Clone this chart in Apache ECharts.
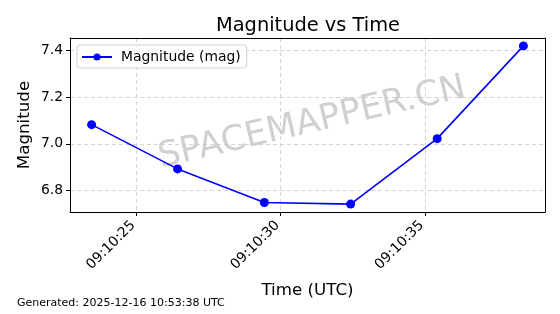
<!DOCTYPE html>
<html><head><meta charset="utf-8">
<script src="https://cdn.jsdelivr.net/npm/echarts@6/dist/echarts.min.js"></script>
<style>html,body{margin:0;padding:0;background:#fff}#c{width:560px;height:314px}</style>
</head><body><div id="c"></div>
<script>
const timeLabels = ['09:10:23.45','09:10:26.43','09:10:29.44','09:10:32.43','09:10:35.43','09:10:38.42'];
const magnitudes = [7.082, 6.892, 6.748, 6.741, 7.022, 7.420];
const xTickLabels = ['09:10:25','09:10:30','09:10:35'];
const yTicks = [6.8, 7.0, 7.2, 7.4];
const seriesName = 'Magnitude (mag)';
const titleText = 'Magnitude vs Time';
const footerText = 'Generated: 2025-12-16 10:53:38 UTC';
const watermark = 'SPACEMAPPER.CN';

function toSec(s){const p=s.split(':');return (+p[0])*3600+(+p[1])*60+(+p[2]);}
function fmt(v){v=Math.round(v);const h=Math.floor(v/3600),m=Math.floor((v%3600)/60),s=v%60;const z=n=>String(n).padStart(2,'0');return z(h)+':'+z(m)+':'+z(s);}
const xs = timeLabels.map(toSec);
const xTickVals = xTickLabels.map(toSec);
const xmin0=Math.min(...xs), xmax0=Math.max(...xs), xr=xmax0-xmin0;
const ymin0=Math.min(...magnitudes), ymax0=Math.max(...magnitudes), yr=ymax0-ymin0;
const FONT='DejaVu Sans';
const chart = echarts.init(document.getElementById('c'), null, {renderer:'canvas'});
chart.setOption({
  animation:false,
  backgroundColor:'#fff',
  textStyle:{fontFamily:FONT},
  title:{text:titleText,left:303,top:11,textAlign:'center',textStyle:{fontFamily:FONT,fontSize:19.4,fontWeight:'normal',color:'#000'}},
  grid:{left:70,right:15,top:38,bottom:102},
  legend:{left:77,top:45,data:[seriesName],itemWidth:30,itemHeight:9,padding:[5,6,4,4],itemGap:8,
    borderColor:'#d0d0d0',borderWidth:1,borderRadius:3,backgroundColor:'rgba(255,255,255,0.8)',
    textStyle:{fontFamily:FONT,fontSize:13.9,color:'#000',padding:[0,0,0,4]}},
  xAxis:[{type:'value',min:xmin0-0.05*xr,max:xmax0+0.05*xr,
    name:'Time (UTC)',nameLocation:'middle',nameGap:70,nameTextStyle:{fontFamily:FONT,fontSize:16.7,color:'#000'},
    axisLine:{show:true,onZero:false,lineStyle:{color:'#000',width:1}},
    axisTick:{show:true,length:4,inside:false,customValues:xTickVals,lineStyle:{color:'#000'}},
    axisLabel:{rotate:45,margin:8,customValues:xTickVals,formatter:v=>fmt(v)+' ',fontFamily:FONT,fontSize:13.9,color:'#000'},
    splitLine:{show:true,lineStyle:{color:'#c8c8c8',type:[4,3],width:0.8}}},
   {type:'value',position:'top',min:0,max:1,axisLine:{show:true,onZero:false,lineStyle:{color:'#000'}},axisTick:{show:false},axisLabel:{show:false},splitLine:{show:false}}],
  yAxis:[{type:'value',min:ymin0-0.05*yr,max:ymax0+0.05*yr,
    name:'Magnitude',nameLocation:'middle',nameGap:37,nameMoveOverlap:false,nameTextStyle:{fontFamily:FONT,fontSize:16.7,color:'#000'},
    axisLine:{show:true,onZero:false,lineStyle:{color:'#000',width:1}},
    axisTick:{show:true,length:4,customValues:yTicks,lineStyle:{color:'#000'}},
    axisLabel:{margin:7,customValues:yTicks,formatter:v=>v.toFixed(1),fontFamily:FONT,fontSize:13.9,color:'#000'},
    splitLine:{show:true,lineStyle:{color:'#c8c8c8',type:[4,3],width:0.8}}},
   {type:'value',position:'right',min:0,max:1,axisLine:{show:true,onZero:false,lineStyle:{color:'#000'}},axisTick:{show:false},axisLabel:{show:false},splitLine:{show:false}}],
  graphic:[
    {type:'text',left:17,top:298,style:{text:footerText,fontFamily:FONT,fontSize:11,fill:'#000'}},
    {type:'text',x:312,y:123,rotation:Math.PI*13/180,z:-1,style:{text:watermark,fontFamily:FONT,fontSize:35,fill:'rgba(150,150,150,0.45)',align:'center',verticalAlign:'middle'}}
  ],
  series:[{name:seriesName,type:'line',data:xs.map((x,i)=>[x,magnitudes[i]]),
    symbol:'circle',symbolSize:9,showSymbol:true,
    lineStyle:{color:'#0000ff',width:1.6},itemStyle:{color:'#0000ff'},z:5}]
});
</script></body></html>
